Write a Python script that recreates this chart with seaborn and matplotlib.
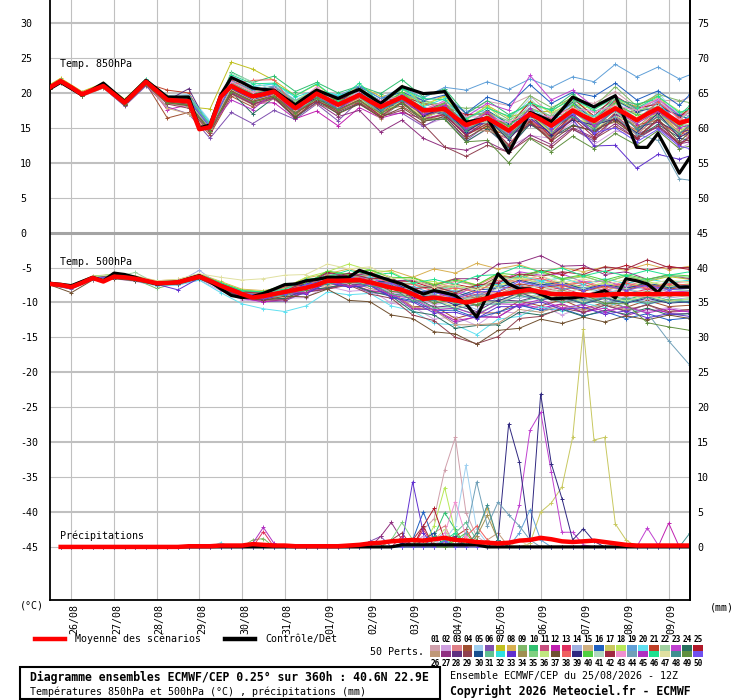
import matplotlib
matplotlib.use("Agg")
import matplotlib.pyplot as plt
import pandas as pd
import seaborn as sns
from matplotlib.lines import Line2D
from matplotlib.patches import Rectangle
from matplotlib.transforms import ScaledTranslation

# ---------------------------------------------------------------- data
DAY_HOURS = [12, 36, 60, 84, 108, 132, 156, 180, 204, 228, 252, 276, 300, 324, 348]
DAY_LABELS = ["26/08", "27/08", "28/08", "29/08", "30/08", "31/08", "01/09", "02/09",
              "03/09", "04/09", "05/09", "06/09", "07/09", "08/09", "09/09"]
LEFT_TICKS = [30, 25, 20, 15, 10, 5, 0, -5, -10, -15, -20, -25, -30, -35, -40, -45]
LEFT_LABELS = ["30", "25", "20", "15", "10", "5", "0", "-5", "-10", "-15", "-20", "-25",
               "-30", "-35", "-40", "-45"]
RIGHT_LABELS = ["75", "70", "65", "60", "55", "50", "45", "40", "35", "30", "25", "20",
                "15", "10", "5", "0"]
PRECIP_ZERO = -45   # 0 mm sits on the -45 line of the left scale

DET_HOURS = list(range(0, 361, 6))
T850_HOURS = [0, 6] + list(range(18, 355, 12)) + [360]
T500_HOURS = list(range(0, 361, 12))
PRECIP_HOURS = list(range(6, 361, 6))

T850_MEAN = [20.8, 21.7, 20.8, 19.8, 20.4, 21.0, 19.8, 18.6, 20.1, 21.6,
             20.3, 19.0, 18.9, 18.8, 14.8, 15.1, 19.4, 21.0, 20.2, 19.5,
             19.8, 20.2, 19.0, 17.8, 18.8, 19.9, 19.1, 18.3, 19.0, 19.7,
             18.8, 18.0, 18.7, 19.4, 18.5, 17.5, 17.6, 17.7, 16.5, 15.4,
             15.9, 16.4, 15.5, 14.6, 15.8, 17.0, 16.2, 15.3, 16.4, 17.5,
             16.7, 16.0, 16.9, 17.8, 17.0, 16.1, 17.0, 17.8, 16.7, 15.7, 16.1]
T850_CTRL = [20.6, 21.5, 20.6, 19.7, 20.5, 21.4, 20.1, 18.8, 20.3, 21.8,
             20.6, 19.4, 19.4, 19.4, 15.0, 15.4, 19.7, 22.2, 21.5, 20.7,
             20.5, 20.4, 19.3, 18.3, 19.4, 20.4, 19.8, 19.2, 19.9, 20.5,
             19.5, 18.5, 19.7, 20.9, 20.4, 19.9, 20.0, 20.2, 18.0, 15.8,
             16.1, 16.4, 13.9, 11.4, 14.3, 17.2, 16.6, 15.9, 17.6, 19.4,
             18.7, 18.0, 18.8, 19.6, 15.9, 12.2, 12.2, 14.2, 11.4, 8.5, 10.8]
T500_MEAN = [-7.35, -7.5, -7.8, -7.2, -6.5, -7.0, -6.3, -6.4, -6.6, -6.9,
             -7.25, -7.2, -7.1, -6.7, -6.3, -6.9, -7.6, -8.2, -8.8, -9.3,
             -9.1, -8.8, -8.5, -8.2, -7.9, -7.5, -6.9, -6.9, -6.85, -6.8,
             -7.1, -7.5, -7.9, -8.2, -8.8, -9.5, -9.3, -9.5, -9.7, -10.0,
             -9.7, -9.4, -8.9, -8.7, -8.4, -8.2, -8.5, -8.8, -8.8, -8.8,
             -8.9, -9.0, -8.9, -8.8, -8.8, -8.8, -8.8, -8.8, -8.8, -8.8, -8.8]
T500_CTRL = [-7.25, -7.4, -7.6, -7.0, -6.4, -6.9, -5.8, -6.0, -6.4, -6.9,
             -7.35, -7.2, -7.1, -6.6, -6.15, -7.0, -8.05, -9.0, -9.3, -9.15,
             -8.7, -8.1, -7.45, -7.35, -6.9, -6.7, -6.4, -6.4, -6.4, -5.4,
             -5.9, -6.4, -6.9, -7.35, -8.1, -8.8, -8.3, -8.6, -9.0, -10.2,
             -12.1, -9.0, -5.9, -7.35, -8.05, -8.05, -8.8, -9.5, -9.4, -9.35,
             -9.1, -8.8, -8.3, -9.35, -6.6, -6.9, -7.35, -8.55, -6.6, -7.8, -7.8]
PRECIP_MEAN = [0.0, 0.0, 0.0, 0.0, 0.0, 0.0, 0.0, 0.0, 0.0, 0.0, 0.0, 0.0,
               0.1, 0.1, 0.1, 0.2, 0.2,
               0.2, 0.4, 0.3, 0.2, 0.2, 0.1, 0.1, 0.1, 0.1, 0.1, 0.2, 0.3,
               0.5, 0.6, 0.8, 0.9, 1.0, 0.9, 1.1, 1.3, 1.0, 0.9, 0.7, 0.6, 0.5, 0.6,
               0.9, 1.0, 1.3, 1.1, 0.8, 0.7, 0.8, 0.9, 0.7, 0.5, 0.3, 0.2, 0.2, 0.2,
               0.2, 0.2, 0.2]
PRECIP_CTRL = [0.0, 0.0, 0.0, 0.0, 0.0, 0.0, 0.0, 0.0, 0.0, 0.0, 0.0, 0.0, 0.0, 0.0,
               0.0, 0.0, 0.0, 0.0, 0.0, 0.0, 0.0, 0.0, 0.0, 0.0, 0.0, 0.0, 0.0, 0.0,
               0.0, 0.0, 0.0, 0.0, 0.3, 0.3, 0.3, 0.3, 0.3, 0.3, 0.3, 0.3, 0.0, 0.0,
               0.0, 0.0, 0.0, 0.0, 0.0, 0.0, 0.0, 0.0, 0.0, 0.0, 0.0, 0.0, 0.0, 0.0,
               0.0, 0.0, 0.0, 0.0]

T850_MEMBERS = [
    [21.0,21.9,20.0,21.2,18.9,21.8,19.2,19.5,15.4,21.8,20.0,20.8,18.9,20.1,19.2,20.8,18.1,19.6,18.9,19.5,17.0,18.8,18.2,19.6,16.9,19.0,18.5,20.2,17.9,19.0,18.8,19.4],
    [20.6,21.5,19.6,20.8,18.3,21.2,18.5,18.0,14.2,20.0,18.6,19.5,17.0,19.5,17.8,18.3,16.9,17.6,15.3,16.4,13.0,14.8,12.2,13.9,13.5,15.8,12.6,14.6,13.8,15.9,12.0,12.8],
    [20.9,21.8,19.9,21.1,18.7,21.7,19.3,19.0,15.2,21.5,19.9,20.5,18.3,19.6,18.9,19.1,17.2,20.1,18.5,17.2,15.8,17.0,14.1,17.9,16.6,17.3,15.4,19.1,17.4,18.0,16.8,17.5],
    [20.7,21.6,19.7,20.9,18.2,21.3,16.4,17.2,14.0,19.5,18.0,19.3,16.5,19.2,17.2,19.5,17.6,18.1,16.2,17.9,14.0,15.6,14.9,15.8,13.6,17.2,15.6,16.1,14.4,17.3,14.9,14.1],
    [20.8,21.7,19.8,21.0,18.8,21.9,19.6,19.8,16.0,22.5,21.0,21.2,19.0,20.5,19.5,20.0,18.2,20.7,18.9,18.1,17.5,17.3,15.9,19.2,16.2,18.8,17.9,19.0,17.0,20.1,16.4,17.9],
    [20.5,21.4,19.5,20.7,18.1,21.0,18.0,17.0,13.5,17.2,15.6,17.5,16.2,18.4,16.0,18.9,16.8,17.1,15.2,16.8,13.2,15.4,12.0,15.6,13.9,14.8,13.1,16.6,14.2,15.0,12.7,13.9],
    [21.2,22.1,20.2,21.4,19.1,22.0,19.5,18.0,17.7,24.4,23.4,21.8,19.6,21.2,18.9,21.0,19.5,20.0,18.2,19.6,16.1,18.2,16.5,17.4,17.3,19.5,16.4,18.6,18.1,19.6,16.2,17.8],
    [20.9,21.8,19.9,21.1,18.5,21.5,18.9,18.5,14.9,20.8,19.3,20.0,17.4,19.8,17.6,19.0,17.9,18.4,16.6,17.9,15.3,15.1,14.6,16.9,14.0,17.5,15.8,16.4,15.9,17.6,14.2,15.6],
    [20.7,21.6,19.7,21.0,18.6,21.6,19.0,19.2,15.5,21.3,19.8,20.6,18.0,20.6,18.4,20.9,18.3,20.5,18.9,18.2,17.8,18.0,16.2,19.6,17.9,19.3,18.0,20.9,18.1,19.8,18.9,18.6],
    [20.9,21.8,19.9,21.1,18.7,21.7,19.1,19.0,15.6,23.0,21.5,22.4,20.2,21.5,20.0,21.0,19.9,21.9,19.4,20.6,17.0,18.9,16.9,18.3,17.6,19.9,17.2,19.0,18.4,19.1,16.8,18.2],
    [20.6,21.5,19.6,20.8,18.4,21.4,18.8,18.4,14.8,20.5,18.9,19.7,17.6,19.1,17.3,19.9,17.0,18.5,16.4,17.6,14.9,14.6,13.4,16.3,13.5,16.9,14.2,16.9,14.0,16.8,14.5,13.8],
    [20.8,21.7,19.8,21.0,18.4,21.5,17.6,18.3,14.7,20.2,18.5,18.6,16.3,17.4,15.3,17.9,16.4,17.2,16.3,17.0,14.2,16.7,15.5,16.6,16.4,18.5,16.0,17.7,17.2,18.8,15.5,16.9],
    [21.0,21.9,20.0,21.2,18.8,21.8,19.3,19.6,15.3,21.8,20.4,20.9,18.6,20.2,19.0,19.8,18.0,19.4,17.2,18.5,15.0,15.7,14.8,16.0,14.1,17.4,15.6,16.5,14.6,17.5,14.0,15.4],
    [20.8,21.7,19.8,21.0,18.6,21.6,19.0,18.9,15.0,20.9,19.3,20.1,17.5,20.3,18.1,19.6,18.6,19.1,17.9,17.5,16.4,17.4,15.0,18.3,16.6,18.0,17.4,18.2,16.8,19.0,17.1,16.6],
    [20.5,21.4,19.5,20.7,18.3,21.3,17.8,17.0,14.5,20.3,18.8,19.6,17.3,19.0,17.8,18.8,16.9,19.2,17.4,16.8,14.5,16.5,14.6,16.2,15.5,17.8,15.1,18.0,16.2,16.9,15.4,15.0],
    [20.9,21.8,19.9,21.1,18.7,21.7,19.2,19.3,15.3,21.6,20.3,20.9,18.6,20.4,18.5,20.9,19.2,20.1,18.9,19.7,17.1,19.4,18.3,21.2,18.5,20.1,19.5,21.4,19.0,20.3,18.2,19.8],
    [20.7,21.6,19.7,20.9,18.5,21.5,18.9,18.7,15.0,20.7,19.1,19.8,17.0,19.9,17.6,19.2,17.4,18.6,17.0,17.9,15.5,15.4,13.6,16.9,14.2,16.3,15.6,16.4,14.5,17.1,14.8,14.3],
    [20.9,21.8,19.9,21.1,18.7,21.7,19.2,19.2,15.5,21.7,20.2,21.0,18.9,20.6,19.4,20.5,18.6,21.0,18.3,19.4,16.2,18.1,15.4,18.8,17.2,18.5,17.6,19.6,16.9,19.4,17.4,17.0],
    [20.8,21.7,19.8,21.0,18.6,21.6,19.1,19.2,15.6,21.7,20.4,21.0,18.9,20.2,19.6,21.0,19.2,20.8,19.3,20.8,20.4,21.6,20.5,22.0,20.8,22.3,21.6,24.1,22.3,23.7,22.0,22.6],
    [20.9,21.8,19.9,21.1,18.6,21.6,19.0,18.9,15.1,21.2,19.7,20.4,18.3,19.7,18.0,20.2,18.5,19.2,17.3,18.6,15.1,17.4,15.5,17.0,16.4,18.4,16.0,18.9,16.2,18.7,16.8,16.3],
    [20.7,21.6,19.7,20.9,18.5,21.4,20.4,20.0,14.8,20.6,19.0,19.6,16.8,19.6,17.9,18.6,17.0,19.3,16.6,17.4,15.0,14.9,13.9,16.5,13.7,17.0,14.3,17.2,15.4,16.1,13.8,15.1],
    [20.6,21.5,19.6,20.8,18.4,21.5,18.9,18.8,15.2,21.1,19.6,20.3,17.6,20.3,18.0,19.3,17.5,18.8,17.8,17.1,14.7,16.8,15.0,16.4,15.9,17.1,16.6,17.3,15.6,18.2,15.9,15.3],
    [20.8,21.7,19.8,21.0,18.5,21.6,19.0,18.8,15.0,21.0,19.6,20.2,17.9,19.6,18.7,19.4,18.5,19.9,17.4,18.9,16.6,18.5,17.5,22.5,19.0,20.4,18.0,19.6,17.6,19.1,16.8,17.1],
    [20.7,21.6,19.7,20.9,18.4,21.3,18.6,18.1,14.5,20.1,17.0,19.3,16.4,18.7,17.1,18.5,16.5,18.6,16.0,16.3,13.0,14.9,12.2,15.5,13.6,15.4,14.5,16.4,13.6,15.5,13.6,13.1],
    [20.9,21.8,19.9,21.1,18.8,21.8,19.3,19.3,15.4,21.4,19.9,20.6,18.5,19.7,18.9,20.4,18.0,19.5,18.5,18.0,16.9,17.0,15.2,18.7,16.1,19.2,16.7,19.5,17.8,18.4,16.5,17.9],
    [20.6,21.5,19.6,20.8,18.3,21.2,18.5,18.1,14.4,19.8,18.3,19.1,16.9,18.4,17.4,18.9,16.3,18.9,16.0,16.9,14.5,14.6,13.6,16.1,13.4,16.6,14.9,15.8,14.1,16.6,14.2,13.5],
    [20.8,21.7,19.8,21.0,18.5,21.4,18.7,18.2,14.6,20.0,18.4,19.2,16.6,18.6,16.6,17.5,14.4,16.1,13.5,12.2,11.8,13.0,11.5,14.0,12.6,15.0,13.6,15.6,13.4,15.2,12.7,13.0],
    [20.7,21.6,19.7,20.9,18.4,21.5,18.9,20.6,14.9,20.7,19.1,19.8,17.6,19.0,18.3,18.8,17.9,18.4,17.4,16.9,14.0,16.0,13.9,15.4,14.6,16.8,14.1,17.0,15.1,15.8,14.4,14.7],
    [20.6,21.5,19.6,20.8,18.2,21.2,18.4,17.8,14.3,19.9,18.4,19.4,17.0,19.1,17.3,18.6,16.6,17.5,15.5,12.3,10.9,12.5,11.5,13.6,12.2,14.8,13.4,15.2,13.5,15.3,12.9,13.3],
    [20.9,21.8,19.9,21.1,18.7,21.7,19.1,19.1,15.3,21.3,19.8,20.5,18.4,19.8,18.2,20.5,18.9,19.3,17.4,18.6,15.4,17.5,15.6,17.1,16.4,18.7,16.1,19.0,17.3,18.0,16.8,16.2],
    [20.8,21.7,19.8,21.0,18.6,21.6,19.0,18.8,15.0,21.0,19.4,20.1,17.2,20.3,17.8,19.2,17.4,19.8,17.9,17.1,15.7,15.7,14.8,17.2,14.5,17.7,15.1,17.9,16.1,16.8,15.7,15.1],
    [20.9,21.8,19.9,21.2,18.9,22.0,19.4,19.6,15.8,22.3,20.9,21.3,19.4,20.4,19.7,20.1,18.3,20.9,18.0,19.2,15.5,17.4,14.4,17.8,16.1,17.4,16.7,18.6,15.9,18.6,15.3,16.7],
    [20.7,21.6,19.7,20.9,18.5,21.5,18.9,18.7,15.0,20.6,19.0,19.8,17.3,19.5,17.9,19.4,17.6,19.0,17.0,17.2,14.8,15.9,14.0,16.3,14.3,16.2,12.4,12.5,9.2,11.2,10.5,11.0],
    [20.8,21.7,19.8,21.0,18.6,21.5,18.9,18.6,14.9,20.8,19.2,19.9,17.0,19.5,18.4,18.8,17.6,19.6,16.6,17.9,14.5,16.5,13.7,17.1,14.4,17.5,14.9,17.7,15.0,17.7,15.5,14.8],
    [20.9,21.8,19.9,21.1,18.7,21.7,19.2,19.1,15.3,21.4,19.9,20.7,18.8,20.3,18.2,20.7,18.5,20.0,18.6,18.3,16.6,17.2,16.0,17.8,16.7,18.8,16.3,19.1,17.5,18.0,16.0,17.4],
    [20.6,21.5,19.6,20.8,18.4,21.4,18.8,18.5,14.9,20.4,18.9,19.7,17.8,18.9,17.7,19.2,16.9,18.9,16.4,17.5,15.4,15.9,13.5,16.9,14.3,17.4,14.8,16.6,15.9,17.0,14.3,15.7],
    [20.7,21.6,19.7,20.9,18.3,21.3,18.6,18.2,14.6,20.2,18.7,19.4,16.5,19.0,17.0,18.4,16.5,17.9,15.9,16.6,13.5,15.3,12.4,15.8,13.1,15.3,14.6,16.0,13.6,16.3,13.0,14.4],
    [20.8,21.7,19.8,21.0,18.6,21.7,19.1,19.0,15.2,21.2,21.8,21.9,17.8,20.5,17.9,19.3,18.6,19.1,17.2,18.6,15.3,17.4,14.7,17.1,16.3,18.1,15.9,18.8,16.0,18.7,16.4,15.8],
    [20.9,21.8,19.9,21.1,18.5,21.5,18.9,18.7,15.1,20.9,19.3,20.0,18.1,19.2,17.6,20.2,17.3,19.7,16.7,17.9,14.4,16.3,13.3,16.8,14.0,16.1,15.4,16.3,14.3,17.1,13.6,14.5],
    [20.7,21.6,19.7,20.9,18.6,21.6,19.0,18.8,15.0,21.1,19.5,20.3,17.4,20.0,18.9,19.4,17.7,20.2,17.2,18.5,15.2,16.7,15.3,17.7,15.0,18.3,15.7,18.5,16.8,17.4,15.1,16.5],
    [20.8,21.7,19.8,21.0,18.7,21.7,19.1,19.0,15.2,22.8,21.6,20.4,18.5,19.6,18.0,20.5,18.3,19.2,17.7,17.8,15.8,15.8,14.9,16.4,15.7,17.0,16.4,17.2,15.5,18.1,15.8,15.2],
    [20.6,21.5,19.6,20.8,18.4,21.3,18.7,18.4,14.7,20.3,18.8,19.6,17.2,18.8,17.6,19.0,16.7,18.7,16.2,16.9,13.9,15.6,12.6,16.0,13.2,16.4,13.7,16.5,13.5,16.1,12.5,13.7],
    [20.9,21.8,19.9,21.1,18.8,21.8,19.3,19.4,15.5,21.6,20.1,20.7,18.3,20.9,18.3,20.2,18.9,19.5,17.5,18.8,16.6,16.5,15.8,17.2,16.5,17.8,17.3,18.2,17.5,19.2,16.1,17.6],
    [20.7,21.6,19.7,20.9,18.5,21.5,18.9,18.6,15.0,20.8,19.2,20.0,17.5,19.1,18.5,19.4,17.2,19.7,17.8,17.1,15.8,16.3,14.0,17.4,14.6,17.2,15.4,16.6,14.1,13.2,7.7,7.5],
    [20.8,21.7,19.8,21.0,18.6,21.6,19.0,18.9,15.1,19.0,17.6,20.1,17.1,20.3,17.6,19.6,18.4,18.9,17.0,18.3,15.0,17.2,14.4,17.8,14.9,17.6,15.3,17.5,15.6,17.4,15.0,15.4],
    [20.9,21.8,19.9,21.1,18.7,21.8,19.3,19.3,15.5,22.6,21.3,21.4,19.6,21.3,19.0,21.4,18.5,20.6,19.2,19.0,16.3,17.8,16.7,18.6,17.5,19.1,17.6,19.4,17.8,19.5,17.2,17.7],
    [20.7,21.6,19.7,20.9,18.5,21.5,18.9,18.7,15.1,20.8,19.3,20.0,17.6,19.7,18.1,19.6,17.8,19.3,17.4,17.7,15.4,16.5,14.7,17.1,15.5,17.8,16.3,18.1,16.5,18.0,15.9,16.3],
    [20.8,21.7,19.8,21.0,18.6,21.6,19.0,18.9,15.1,21.1,19.6,20.2,18.3,19.4,17.7,20.0,17.6,18.9,17.9,17.0,14.6,16.4,13.6,16.9,15.3,16.6,14.8,17.6,14.8,16.6,14.1,15.4],
    [20.6,21.5,19.6,20.8,18.4,21.3,18.6,18.3,14.6,20.2,18.7,19.5,17.1,19.2,17.5,18.9,17.1,18.5,16.3,16.2,13.0,13.2,10.0,13.5,11.6,13.8,12.0,14.2,12.5,14.6,12.0,12.4],
    [20.9,21.8,19.9,21.1,18.7,21.7,19.2,19.0,15.2,21.1,19.6,20.3,17.8,19.9,18.3,19.8,18.0,19.5,17.5,17.8,15.4,16.4,14.5,16.9,15.0,17.0,14.3,15.0,13.0,14.8,12.4,12.0],
]

T500_MEMBERS = [
    [-7.2,-7.6,-6.3,-6.0,-6.3,-7.0,-6.8,-6.0,-7.2,-8.4,-8.7,-8.2,-7.1,-6.6,-6.0,-6.8,-6.7,-7.9,-7.5,-8.4,-7.6,-7.0,-7.6,-6.6,-7.8,-7.1,-8.0,-7.2,-7.9,-7.3,-7.6],
    [-7.5,-8.0,-6.8,-6.6,-7.0,-7.6,-7.5,-6.8,-8.3,-9.6,-10.0,-9.4,-9.3,-7.7,-8.4,-8.2,-10.1,-10.6,-12.4,-12.0,-13.3,-11.2,-11.6,-10.4,-11.8,-10.6,-11.6,-10.5,-11.3,-10.7,-11.2],
    [-7.3,-7.7,-6.4,-6.1,-6.4,-7.1,-7.0,-6.2,-7.5,-8.7,-9.0,-8.0,-7.9,-6.2,-6.6,-5.9,-7.0,-6.8,-7.8,-7.0,-7.6,-6.1,-6.8,-6.2,-7.5,-6.9,-7.8,-7.0,-7.7,-7.2,-7.0],
    [-7.4,-7.9,-6.6,-6.4,-6.8,-7.4,-7.3,-6.5,-7.9,-9.2,-9.6,-9.4,-8.2,-7.9,-7.2,-8.4,-8.6,-10.6,-10.5,-12.3,-11.5,-11.5,-9.8,-10.5,-9.6,-10.9,-10.0,-10.7,-9.7,-10.6,-10.4],
    [-7.2,-7.7,-6.4,-6.2,-6.5,-7.2,-7.0,-6.2,-7.4,-8.6,-8.8,-7.8,-7.7,-6.0,-6.5,-6.0,-7.3,-7.2,-8.3,-7.8,-8.4,-7.0,-7.6,-6.8,-8.1,-7.5,-8.4,-7.5,-8.3,-7.6,-7.9],
    [-7.5,-8.1,-6.7,-6.5,-6.8,-7.4,-7.2,-6.4,-7.9,-9.4,-9.9,-9.8,-8.5,-8.1,-7.3,-8.6,-8.8,-11.0,-11.0,-12.9,-12.0,-12.1,-10.3,-11.1,-10.2,-11.5,-10.4,-11.3,-10.3,-11.6,-11.6],
    [-7.3,-7.7,-6.4,-6.2,-6.5,-7.1,-6.9,-6.1,-7.3,-8.4,-8.6,-7.5,-7.3,-5.6,-6.0,-5.4,-6.5,-6.4,-7.4,-6.6,-7.5,-5.9,-6.7,-5.5,-6.6,-6.2,-7.2,-6.2,-7.0,-6.3,-6.7],
    [-7.2,-7.5,-6.2,-6.0,-6.2,-6.9,-6.7,-5.9,-7.0,-8.1,-8.3,-7.8,-6.5,-5.9,-5.2,-5.9,-5.4,-6.4,-5.2,-5.8,-4.4,-5.2,-4.6,-5.6,-5.0,-5.6,-4.9,-5.4,-4.5,-5.3,-4.8],
    [-7.4,-7.9,-6.6,-6.4,-6.7,-8.0,-7.2,-6.4,-7.7,-8.9,-9.3,-8.4,-8.4,-6.8,-7.3,-6.9,-8.5,-8.6,-9.9,-9.4,-10.3,-8.6,-8.9,-8.2,-9.3,-8.6,-9.5,-8.6,-9.4,-8.5,-8.9],
    [-7.3,-7.8,-6.5,-6.3,-6.6,-7.3,-7.1,-6.3,-7.6,-8.8,-9.1,-8.9,-7.7,-7.3,-6.6,-7.5,-7.6,-9.3,-9.0,-10.2,-9.4,-9.4,-8.1,-9.0,-8.5,-9.5,-8.8,-9.6,-8.8,-9.7,-9.5],
    [-7.4,-7.8,-6.5,-6.3,-6.6,-7.2,-7.0,-6.2,-7.5,-8.7,-9.0,-8.1,-8.1,-6.5,-7.1,-6.7,-7.9,-7.9,-9.2,-8.5,-9.5,-7.8,-8.0,-7.3,-8.2,-7.4,-8.3,-7.4,-8.1,-7.5,-7.9],
    [-7.5,-8.0,-6.7,-6.5,-6.8,-7.5,-7.3,-6.6,-8.0,-9.4,-9.9,-9.6,-8.4,-8.0,-7.3,-8.3,-8.6,-10.8,-11.0,-12.6,-12.1,-12.1,-10.2,-10.8,-10.2,-11.4,-10.8,-11.9,-11.0,-11.4,-11.2],
    [-7.3,-7.8,-6.5,-6.2,-6.5,-7.2,-7.0,-6.2,-7.5,-8.7,-9.0,-8.7,-7.5,-7.1,-6.4,-7.2,-7.3,-8.8,-8.5,-9.6,-8.8,-8.8,-7.6,-8.4,-7.9,-8.9,-8.2,-8.8,-8.1,-8.8,-8.3],
    [-7.4,-7.9,-6.6,-6.4,-6.7,-7.3,-7.1,-5.4,-7.6,-8.9,-9.2,-8.3,-8.3,-6.7,-7.3,-7.0,-8.6,-8.9,-10.3,-9.9,-11.0,-9.3,-9.4,-8.8,-9.9,-9.2,-10.0,-9.2,-9.9,-9.2,-9.6],
    [-7.3,-7.8,-6.5,-6.3,-6.6,-7.2,-7.1,-6.3,-7.6,-8.8,-9.1,-8.8,-7.6,-7.2,-6.5,-7.4,-7.4,-9.0,-8.8,-9.8,-9.0,-8.9,-7.5,-8.2,-7.6,-8.4,-7.8,-8.3,-7.6,-8.2,-8.0],
    [-7.3,-7.8,-6.5,-6.3,-6.6,-7.3,-7.2,-6.4,-7.8,-9.1,-9.5,-8.7,-8.7,-7.1,-7.8,-7.5,-9.2,-9.7,-11.2,-11.1,-12.2,-11.4,-10.4,-11.1,-10.9,-11.9,-11.3,-12.3,-11.6,-12.5,-12.2],
    [-7.2,-7.7,-6.4,-6.1,-6.4,-7.1,-6.9,-6.1,-7.3,-8.5,-8.7,-8.3,-7.0,-6.6,-5.9,-6.7,-6.6,-8.0,-7.7,-8.7,-7.9,-7.8,-6.8,-7.6,-7.3,-8.2,-7.6,-8.1,-7.3,-8.0,-7.6],
    [-7.2,-7.6,-6.3,-6.0,-6.3,-7.0,-6.8,-6.0,-7.1,-8.2,-8.4,-7.9,-6.4,-5.6,-4.5,-5.4,-5.6,-7.2,-7.0,-8.1,-7.5,-7.6,-6.5,-7.2,-7.0,-7.9,-7.2,-7.9,-7.0,-7.7,-7.3],
    [-7.4,-7.9,-6.6,-6.3,-6.6,-7.3,-7.1,-6.3,-7.6,-8.8,-9.0,-8.1,-8.0,-6.3,-6.8,-6.3,-7.6,-7.7,-8.8,-8.3,-9.1,-7.6,-7.6,-7.0,-8.1,-7.8,-8.6,-8.1,-8.9,-8.1,-8.3],
    [-7.5,-8.0,-6.7,-6.5,-6.9,-7.6,-7.5,-6.8,-8.6,-10.2,-10.9,-11.3,-10.5,-8.5,-8.9,-8.7,-10.5,-11.2,-13.0,-13.2,-14.6,-12.4,-12.0,-10.6,-11.2,-10.1,-10.7,-9.7,-10.3,-9.6,-10.1],
    [-7.3,-7.8,-6.5,-6.3,-6.6,-7.2,-7.0,-6.2,-7.5,-8.7,-9.0,-8.7,-7.4,-7.0,-6.3,-7.1,-7.2,-8.7,-8.3,-9.4,-8.5,-8.5,-7.3,-7.9,-7.5,-8.4,-7.6,-8.2,-7.4,-8.1,-7.7],
    [-7.4,-7.9,-6.6,-6.4,-5.7,-7.3,-7.1,-6.3,-7.6,-8.8,-9.2,-8.3,-8.3,-6.7,-7.3,-7.0,-8.4,-8.7,-10.0,-9.6,-10.5,-8.8,-9.1,-8.4,-9.5,-8.8,-9.6,-8.8,-9.5,-8.9,-9.3],
    [-7.3,-7.8,-6.5,-6.2,-6.5,-7.2,-7.0,-6.2,-7.4,-8.6,-8.8,-8.5,-7.2,-6.7,-6.0,-6.8,-7.0,-8.6,-8.3,-9.0,-7.6,-7.2,-5.6,-6.1,-5.9,-7.1,-6.9,-7.8,-7.6,-8.5,-8.4],
    [-7.4,-7.9,-6.6,-6.4,-6.8,-7.4,-7.3,-6.5,-7.9,-9.2,-9.6,-9.4,-8.2,-7.9,-7.3,-8.4,-9.1,-11.3,-11.8,-13.7,-13.3,-13.2,-11.4,-11.8,-11.0,-12.0,-11.1,-11.7,-10.8,-11.8,-11.6],
    [-7.3,-7.7,-6.4,-6.2,-6.5,-7.1,-6.9,-6.1,-7.3,-8.4,-8.6,-7.6,-7.4,-5.7,-6.2,-5.7,-6.9,-7.0,-8.0,-7.4,-8.0,-6.3,-6.4,-5.4,-6.0,-5.0,-5.6,-4.7,-5.4,-4.8,-5.3],
    [-7.4,-7.9,-6.6,-6.4,-6.7,-7.4,-7.2,-6.4,-7.8,-9.0,-9.4,-9.2,-7.9,-7.6,-7.0,-8.0,-8.6,-10.6,-11.1,-13.2,-13.2,-13.0,-11.0,-11.4,-10.4,-11.1,-10.2,-11.0,-10.4,-11.3,-11.0],
    [-7.3,-7.8,-6.5,-6.2,-6.5,-7.1,-6.9,-6.1,-7.3,-8.5,-8.7,-7.7,-7.5,-5.8,-6.3,-5.8,-6.9,-6.8,-7.6,-6.6,-6.6,-4.5,-4.3,-3.3,-4.8,-4.7,-6.0,-5.6,-6.7,-6.1,-6.6],
    [-7.4,-7.9,-6.6,-6.3,-6.6,-7.3,-7.1,-6.3,-7.7,-9.0,-9.3,-8.5,-8.5,-6.9,-7.5,-7.3,-8.8,-9.1,-10.7,-10.4,-11.3,-9.6,-9.8,-9.0,-10.0,-9.4,-10.3,-9.4,-10.2,-9.6,-10.0],
    [-7.5,-8.0,-6.7,-6.5,-6.8,-7.5,-7.3,-6.5,-7.9,-9.3,-9.7,-9.6,-8.5,-8.1,-7.5,-8.8,-9.4,-11.8,-12.6,-15.0,-15.9,-14.9,-12.3,-12.0,-10.8,-11.4,-10.4,-11.2,-10.3,-11.3,-11.0],
    [-7.3,-7.8,-6.5,-6.3,-6.6,-7.2,-7.0,-6.2,-7.5,-8.7,-9.0,-8.6,-7.3,-6.9,-6.2,-7.0,-7.0,-8.5,-8.3,-9.2,-8.2,-8.0,-6.8,-7.5,-7.1,-8.1,-7.4,-8.0,-7.2,-7.9,-7.5],
    [-7.4,-7.9,-6.6,-6.4,-6.7,-7.3,-7.1,-6.3,-7.7,-8.9,-9.3,-8.4,-8.4,-6.8,-7.4,-7.1,-8.8,-9.3,-10.8,-10.8,-11.7,-10.1,-9.9,-9.2,-9.9,-9.6,-10.2,-9.4,-10.1,-9.5,-9.9],
    [-7.2,-7.7,-6.4,-6.2,-6.5,-7.1,-6.9,-6.1,-7.4,-8.5,-8.7,-8.3,-7.0,-6.5,-5.8,-6.5,-6.5,-8.0,-7.7,-8.5,-7.6,-7.4,-6.2,-6.9,-6.5,-7.4,-6.6,-7.3,-6.6,-7.2,-6.8],
    [-7.4,-7.9,-6.6,-6.4,-6.7,-7.4,-8.2,-6.5,-7.9,-9.2,-9.6,-8.8,-8.8,-7.2,-7.8,-7.6,-9.3,-9.9,-11.5,-11.4,-12.3,-10.6,-10.6,-9.9,-11.0,-10.7,-11.7,-11.2,-12.2,-11.6,-12.0],
    [-7.3,-7.8,-6.5,-6.3,-6.6,-7.2,-7.1,-6.3,-7.6,-8.8,-9.1,-8.8,-7.6,-7.2,-6.6,-7.5,-7.7,-9.3,-9.1,-10.0,-9.2,-9.1,-7.9,-8.6,-8.2,-9.1,-8.4,-9.1,-8.4,-9.1,-8.8],
    [-7.3,-7.7,-6.4,-6.2,-6.5,-7.1,-6.9,-6.1,-7.4,-8.6,-8.8,-7.8,-7.7,-6.0,-6.5,-6.0,-7.2,-7.3,-8.2,-7.6,-8.1,-6.4,-6.4,-5.7,-6.8,-6.3,-7.1,-6.2,-6.9,-6.2,-6.4],
    [-7.4,-7.9,-6.6,-6.4,-6.7,-7.3,-7.2,-6.4,-7.7,-8.9,-9.2,-9.0,-7.8,-7.4,-6.7,-7.6,-7.9,-9.6,-9.6,-10.6,-9.9,-9.9,-8.7,-9.3,-8.9,-9.8,-9.1,-9.8,-9.0,-9.8,-9.5],
    [-7.5,-8.6,-6.8,-6.6,-6.9,-7.5,-7.4,-6.6,-8.0,-9.3,-9.7,-9.1,-9.2,-8.1,-9.7,-9.9,-11.8,-12.3,-14.2,-14.5,-16.0,-14.0,-13.7,-12.4,-13.0,-12.1,-12.8,-11.9,-12.5,-11.8,-12.3],
    [-7.3,-7.7,-6.4,-6.2,-6.5,-7.1,-6.9,-6.1,-7.3,-8.5,-8.8,-7.8,-7.7,-6.1,-6.6,-6.1,-7.3,-7.4,-8.4,-7.9,-8.5,-6.8,-7.0,-6.5,-7.6,-7.1,-8.0,-7.2,-8.0,-7.3,-7.5],
    [-7.4,-7.8,-6.5,-6.3,-6.6,-7.2,-7.0,-6.2,-7.5,-8.7,-9.0,-8.8,-7.5,-7.1,-6.4,-7.4,-7.5,-9.2,-9.1,-10.4,-9.7,-9.8,-8.6,-9.6,-9.2,-10.2,-9.4,-10.1,-9.4,-10.1,-9.9],
    [-7.2,-7.7,-6.4,-6.1,-6.4,-7.0,-6.8,-6.0,-7.2,-8.3,-8.5,-7.4,-7.3,-5.5,-6.0,-5.3,-6.4,-6.5,-7.5,-6.8,-7.5,-5.8,-6.1,-5.5,-6.6,-6.0,-6.8,-6.0,-6.7,-6.0,-6.2],
    [-7.3,-7.8,-6.5,-6.3,-6.6,-7.2,-7.0,-6.2,-7.5,-8.7,-9.0,-8.1,-8.1,-6.5,-7.0,-6.6,-7.9,-8.1,-9.4,-8.9,-9.7,-7.9,-8.2,-7.5,-8.6,-8.0,-8.8,-8.0,-8.7,-8.1,-8.4],
    [-7.3,-7.7,-6.4,-6.2,-6.5,-7.1,-6.9,-6.1,-7.3,-8.5,-8.7,-8.4,-7.0,-6.6,-5.8,-6.6,-6.5,-8.1,-7.7,-8.6,-7.5,-7.2,-5.9,-6.3,-5.6,-6.0,-4.9,-5.2,-3.9,-5.0,-5.0],
    [-7.4,-7.9,-6.6,-6.4,-6.7,-7.3,-7.1,-6.3,-7.6,-8.8,-9.1,-8.3,-8.3,-6.7,-7.3,-7.0,-8.5,-8.8,-10.2,-9.7,-10.5,-8.8,-8.9,-8.4,-9.4,-8.7,-9.5,-8.6,-9.4,-8.7,-9.1],
    [-7.3,-7.8,-6.5,-6.3,-6.6,-7.2,-7.0,-6.2,-7.5,-8.7,-9.0,-8.7,-7.5,-7.1,-6.5,-7.3,-7.4,-9.1,-8.9,-9.8,-8.9,-8.9,-7.9,-8.8,-8.5,-9.7,-9.3,-10.8,-11.5,-15.5,-19.0],
    [-7.4,-7.9,-6.6,-6.4,-6.7,-7.4,-7.2,-6.4,-7.8,-9.0,-9.4,-8.6,-8.6,-7.0,-7.6,-7.4,-9.0,-9.4,-11.1,-10.8,-11.8,-10.2,-10.3,-9.6,-10.8,-10.3,-11.3,-10.6,-11.5,-10.9,-11.4],
    [-7.2,-7.6,-6.3,-6.0,-6.3,-7.0,-6.8,-6.0,-7.2,-8.3,-8.5,-8.1,-6.7,-6.3,-5.4,-6.0,-5.8,-7.2,-6.7,-7.4,-6.2,-6.0,-4.8,-5.6,-5.1,-6.2,-5.5,-6.2,-5.4,-6.1,-5.6],
    [-7.2,-7.6,-6.3,-6.0,-6.3,-6.9,-6.7,-5.9,-6.4,-6.8,-6.6,-6.1,-6.0,-4.5,-5.2,-4.9,-6.5,-6.7,-7.8,-7.5,-8.2,-6.5,-6.7,-6.2,-7.2,-6.6,-7.5,-6.7,-7.4,-6.8,-7.1],
    [-7.4,-7.9,-6.6,-6.4,-6.7,-7.3,-7.1,-6.3,-7.7,-8.9,-9.2,-9.0,-7.8,-7.4,-6.8,-7.7,-7.9,-9.8,-9.7,-10.9,-10.3,-10.2,-9.0,-9.6,-9.2,-10.1,-9.3,-10.0,-9.2,-10.0,-9.8],
    [-7.3,-7.8,-6.5,-6.3,-6.6,-7.2,-7.0,-6.2,-7.6,-8.8,-9.1,-8.2,-8.2,-6.6,-7.2,-6.9,-8.4,-8.8,-10.1,-9.6,-10.4,-8.8,-8.8,-8.4,-9.4,-8.9,-10.1,-10.2,-12.9,-13.5,-14.0],
    [-7.3,-7.8,-6.5,-6.3,-6.6,-7.2,-7.0,-6.2,-7.5,-8.7,-9.0,-8.8,-7.4,-7.0,-6.3,-7.2,-7.2,-8.7,-8.5,-9.4,-8.5,-8.4,-7.0,-7.7,-7.4,-8.3,-7.5,-8.3,-7.5,-8.2,-7.9],
]

# sparse 6-hourly precipitation of the perturbed members (mm): member, hour, amount
PRECIP_MEMBER = [39, 39, 39, 39, 39, 39, 39, 39, 39, 39,
                 23, 23, 23, 23, 23, 23, 23, 23, 23, 23,
                 17, 17, 17, 17, 17, 17, 17, 17, 17, 17,
                 1, 1, 1, 1, 1, 1, 1, 5, 5, 5, 5, 5, 33, 33, 33,
                 44, 44, 44, 44, 44, 44, 44, 18, 18, 18, 16, 16, 16, 25, 25, 25,
                 43, 43, 43, 48, 48, 48, 48, 27, 27, 27, 35, 35, 35, 34, 34, 34,
                 19, 19, 19, 10, 10, 10, 31, 31, 31, 8, 8, 8, 13, 13, 13,
                 45, 45, 45, 9, 9, 3, 3, 21, 21, 38, 38, 38, 46, 46, 2, 2, 14, 14,
                 20, 20, 20, 29, 29, 12, 12, 26, 26, 36, 36, 42, 42, 47, 40, 40,
                 6, 6, 28, 28, 30, 30, 24, 11, 11, 4, 7, 15, 22, 37, 41, 49, 50, 32]
PRECIP_HOUR = [252, 258, 264, 270, 276, 282, 288, 294, 300, 306,
               258, 264, 270, 276, 282, 288, 294, 300, 336, 342,
               270, 276, 282, 288, 294, 300, 306, 312, 318, 324,
               210, 216, 222, 228, 234, 240, 246, 222, 228, 234, 240, 246, 198, 204, 210,
               234, 240, 246, 252, 258, 264, 270, 216, 222, 228, 204, 210, 216, 210, 216, 222,
               222, 228, 234, 240, 246, 252, 360, 186, 192, 198, 192, 198, 204, 240, 246, 252,
               264, 270, 276, 216, 222, 228, 228, 234, 240, 240, 246, 252, 120, 198, 210,
               114, 120, 126, 114, 120, 216, 222, 228, 234, 234, 240, 246, 222, 228, 204, 210, 216, 222,
               96, 216, 228, 192, 198, 210, 348, 246, 252, 216, 222, 204, 210, 264, 228, 234,
               180, 186, 222, 228, 210, 216, 228, 198, 204, 216, 234, 222, 204, 240, 216, 240, 222, 222]
PRECIP_MM = [1.0, 17.6, 12.2, 1.0, 21.9, 11.9, 6.9, 1.0, 2.6, 0.8,
             0.5, 6.0, 16.7, 19.3, 10.7, 2.1, 2.1, 0.3, 2.7, 0.3,
             0.5, 5.0, 6.3, 8.6, 15.7, 31.2, 15.3, 15.7, 3.3, 1.0,
             2.5, 4.0, 11.0, 15.7, 4.9, 1.5, 0.5, 1.0, 3.0, 11.7, 2.5, 0.5, 0.5, 9.3, 2.0,
             2.0, 9.3, 3.0, 6.4, 4.6, 3.0, 1.0, 3.0, 8.5, 2.0, 1.0, 5.0, 1.0, 3.0, 5.5, 1.0,
             2.0, 6.5, 1.5, 2.0, 6.0, 1.0, 2.0, 1.5, 3.5, 1.0, 1.0, 3.5, 1.0, 1.5, 4.5, 1.0,
             2.0, 5.3, 1.0, 1.5, 4.9, 2.5, 2.0, 3.5, 1.0, 2.0, 5.6, 1.0, 2.2, 1.5, 2.5,
             0.5, 2.8, 0.5, 1.0, 1.2, 2.0, 3.0, 1.5, 2.5, 1.5, 3.0, 1.0, 1.0, 2.0, 0.8, 1.5, 1.0, 2.0,
             0.6, 1.0, 1.5, 1.0, 2.0, 1.0, 3.4, 1.0, 2.0, 1.0, 2.5, 1.0, 3.0, 1.0, 1.0, 2.0,
             0.8, 1.5, 1.0, 1.5, 1.0, 2.0, 1.0, 0.5, 1.2, 0.6, 0.8, 0.7, 0.6, 0.6, 1.0, 1.0, 0.8, 1.0]

MEMBER_IDS = ["%02d" % (i + 1) for i in range(50)]
MEMBER_COLORS = ["#d0a0ac", "#d0a0e0", "#e08088", "#a05030", "#a0d0f0", "#8050b0", "#c0c020", "#d8b050", "#80b868", "#30c070",
                 "#c85080", "#c020b0", "#e03060", "#a0b0e0", "#d0b080", "#2060c0", "#c8c860", "#b8e858", "#60a0d8", "#60e0f0",
                 "#c04028", "#a0d0a0", "#c040d0", "#287060", "#b01828",
                 "#c09878", "#903080", "#603080", "#904050", "#185090", "#60c090", "#30e0e0", "#6030d0", "#a09050", "#80d080",
                 "#c0e880", "#705030", "#f06060", "#302880", "#50d040", "#b0d8c0", "#a02840", "#f090d0", "#70a0b8", "#b030c0",
                 "#20e090", "#e0e0a0", "#409090", "#609040", "#7050f0"]
PALETTE = dict(zip(MEMBER_IDS, MEMBER_COLORS))

# ---------------------------------------------------------------- build frames
def long_frame(hours, members, offset=0.0):
    rows = []
    for mid, vals in zip(MEMBER_IDS, members):
        for h, v in zip(hours, vals):
            rows.append((mid, h, v + offset))
    return pd.DataFrame(rows, columns=["member", "hour", "value"])

precip_grid = {mid: {h: 0.0 for h in PRECIP_HOURS} for mid in MEMBER_IDS}
for m, h, v in zip(PRECIP_MEMBER, PRECIP_HOUR, PRECIP_MM):
    precip_grid["%02d" % m][h] = v
precip_members = [[precip_grid[mid][h] for h in PRECIP_HOURS] for mid in MEMBER_IDS]

df850 = long_frame(T850_HOURS, T850_MEMBERS)
df500 = long_frame(T500_HOURS, T500_MEMBERS)
dfpr = long_frame(PRECIP_HOURS, precip_members, PRECIP_ZERO)

# ---------------------------------------------------------------- figure
FONT = "DejaVu Sans Mono"
plt.rcParams["font.family"] = [FONT, "DejaVu Sans"]
FS = 7.2
GRID = "#c0c0c0"
W, H = 740, 700

def fx(px):
    return px / W

def fy(py):
    return 1 - py / H

fig = plt.figure(figsize=(7.4, 7.0), dpi=100)
fig.patch.set_facecolor("white")
ax = fig.add_axes([fx(50), fy(600), fx(690) - fx(50), fy(0) - fy(600)])
YBOT, YTOP = -52.6, 33.3
ax.set_xlim(0, 360)
ax.set_ylim(YBOT, YTOP)
ax.set_facecolor("white")

for v in LEFT_TICKS:
    if v == 0:
        continue
    ax.axhline(v, color=GRID, lw=1.5 if v % 10 == 0 else 0.8, zorder=0)
ax.axhline(0, color="#a4a4a4", lw=2.2, zorder=0.5)
for h in DAY_HOURS:
    ax.axvline(h, color=GRID, lw=0.8, zorder=0)


def draw_members(df):
    n0 = len(ax.lines)
    sns.lineplot(data=df, x="hour", y="value", hue="member", hue_order=MEMBER_IDS,
                 palette=PALETTE, legend=False, errorbar=None, sort=False,
                 lw=0.7, marker="+", ms=3.5, mew=0.7, ax=ax, zorder=2)
    for ln in ax.lines[n0:]:
        ln.set_markeredgecolor(ln.get_color())


draw_members(df850)
draw_members(df500)
draw_members(dfpr)

for hours, ctrl, mean in [(DET_HOURS, T850_CTRL, T850_MEAN),
                          (DET_HOURS, T500_CTRL, T500_MEAN)]:
    sns.lineplot(x=hours, y=ctrl, color="black", lw=2.3, ax=ax, zorder=4)
    sns.lineplot(x=hours, y=mean, color="#ff0000", lw=3.2, ax=ax, zorder=5)
sns.lineplot(x=PRECIP_HOURS, y=[PRECIP_ZERO + p for p in PRECIP_CTRL], color="black", lw=2.3, ax=ax, zorder=4)
sns.lineplot(x=PRECIP_HOURS, y=[PRECIP_ZERO + p for p in PRECIP_MEAN], color="#ff0000", lw=3.2, ax=ax, zorder=5)

ax.set_xlabel("")
ax.set_ylabel("")
ax.set_xticks(DAY_HOURS)
ax.set_xticklabels(DAY_LABELS, rotation=90, fontsize=FS)
ax.tick_params(axis="x", length=0, pad=3)
shift = ScaledTranslation(0.03, 0, fig.dpi_scale_trans)
for t in ax.get_xticklabels():
    t.set_transform(t.get_transform() + shift)
ax.set_yticks(LEFT_TICKS)
ax.set_yticklabels(LEFT_LABELS, fontsize=FS)
ax.tick_params(axis="y", length=0, pad=21.6)
for t in ax.get_yticklabels():
    t.set_ha("left")

for s in ["left", "right", "bottom"]:
    ax.spines[s].set_color("black")
    ax.spines[s].set_linewidth(1.3)
ax.spines["top"].set_visible(False)

ax2 = ax.twinx()
ax2.set_ylim(YBOT, YTOP)
ax2.set_yticks(LEFT_TICKS)
ax2.set_yticklabels(RIGHT_LABELS, fontsize=FS)
ax2.tick_params(axis="y", length=0, pad=5)
for s in ["left", "top", "bottom"]:
    ax2.spines[s].set_visible(False)
ax2.spines["right"].set_linewidth(1.3)

# in-plot labels
fig.text(fx(60), fy(64), "Temp. 850hPa", fontsize=FS, va="center", ha="left")
fig.text(fx(60), fy(262), "Temp. 500hPa", fontsize=FS, va="center", ha="left")
fig.text(fx(60), fy(536), "Précipitations", fontsize=FS, va="center", ha="left")
fig.text(fx(20), fy(606), "(°C)", fontsize=FS, va="center", ha="left")
fig.text(fx(710), fy(607), "(mm)", fontsize=FS, va="center", ha="left")

# legend
fig.add_artist(Line2D([fx(35), fx(65)], [fy(639), fy(639)], color="#ff0000", lw=3.2,
                      transform=fig.transFigure))
fig.text(fx(75), fy(639), "Moyenne des scénarios", fontsize=FS, va="center", ha="left")
fig.add_artist(Line2D([fx(225), fx(255)], [fy(639), fy(639)], color="black", lw=3.2,
                      transform=fig.transFigure))
fig.text(fx(265), fy(639), "Contrôle/Det", fontsize=FS, va="center", ha="left")
fig.text(fx(370), fy(652), "50 Perts.", fontsize=FS, va="center", ha="left")

for i in range(25):
    x0 = 430 + 10.96 * i
    for row, (ytop, ylab) in enumerate([(645, 640), (651, 663)]):
        mid = MEMBER_IDS[i + 25 * row]
        fig.add_artist(Rectangle((fx(x0), fy(ytop + 6)), 9.6 / W, 6 / H,
                                 transform=fig.transFigure, facecolor=PALETTE[mid],
                                 edgecolor="none"))
        fig.text(fx(x0 + 4.8), fy(ylab), mid, fontsize=5.6, fontweight="bold",
                 va="center", ha="center")

# bottom caption
fig.add_artist(Rectangle((fx(20), fy(699)), (440 - 20) / W, (699 - 667) / H,
                         transform=fig.transFigure, fill=False, edgecolor="black", lw=1.5))
fig.text(fx(30), fy(677), "Diagramme ensembles ECMWF/CEP 0.25° sur 360h : 40.6N 22.9E",
         fontsize=8.3, fontweight="bold", va="center", ha="left")
fig.text(fx(30), fy(691.5), "Températures 850hPa et 500hPa (°C) , précipitations (mm)",
         fontsize=FS, va="center", ha="left")
fig.text(fx(450), fy(676), "Ensemble ECMWF/CEP du 25/08/2026 - 12Z",
         fontsize=FS, va="center", ha="left")
fig.text(fx(450), fy(691.5), "Copyright 2026 Meteociel.fr - ECMWF",
         fontsize=8.3, fontweight="bold", va="center", ha="left")

fig.savefig("out.png", dpi=100, facecolor="white")
